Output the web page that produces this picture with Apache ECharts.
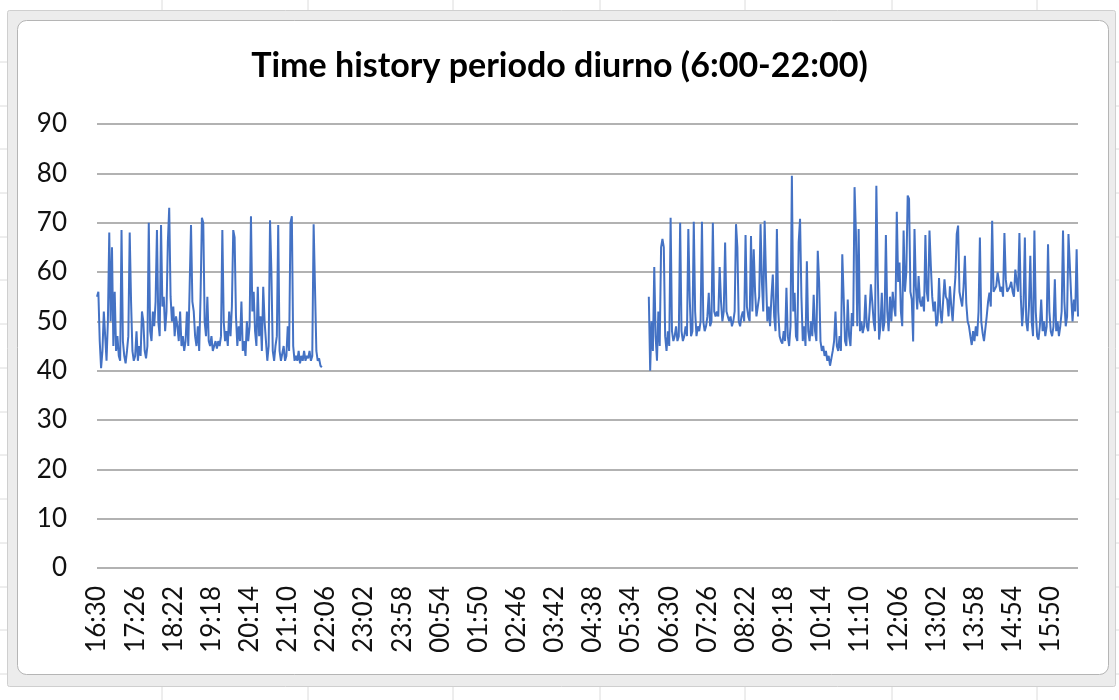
<!DOCTYPE html>
<html>
<head>
<meta charset="utf-8">
<script src="https://cdn.jsdelivr.net/npm/echarts@6/dist/echarts.min.js"></script>
<style>
  html, body { margin: 0; padding: 0; background: #ffffff; }
  #chart { width: 1119px; height: 700px; }
</style>
</head>
<body>
<div id="chart"></div>
<script>
// ---- Data (2-minute samples) ----
const chartTitle = 'Time history periodo diurno (6:00-22:00)';
const startHour = 16, startMinute = 30;      // first sample 16:30
const stepMinutes = 2;                       // sampling step
const labelEvery = 28;                       // one label every 56 minutes
const yTicks = [0, 10, 20, 30, 40, 50, 60, 70, 80, 90];

// 16:30 -> 22:00
const eveningValues = [
  55, 56, 46, 40.5, 44, 52, 47, 42, 50, 68,
  50, 65, 45, 56, 44, 47, 43, 42, 68.5, 46,
  43, 41.5, 44, 47, 68, 54, 44, 42, 43, 48,
  42, 45, 43, 52, 50, 44, 42.5, 45, 70, 48,
  46, 52, 49, 54, 68.5, 50, 47, 69.5, 53, 55,
  48, 52, 66, 73, 55, 50, 53, 47, 51, 49,
  46, 52, 45, 47, 44, 46, 52, 45, 57, 69.5,
  54, 52, 47, 45, 49, 44, 55, 71, 70, 50,
  47, 55, 46, 45, 47, 44, 45, 46, 44.5, 46,
  45, 47, 68.5, 50, 46, 48, 45, 52, 47, 53,
  68.5, 67, 51, 45, 49, 46, 54, 44, 46, 43,
  50, 46, 49, 71.3, 52, 56, 48, 45, 57, 47,
  51, 44, 57, 50, 46, 42, 45, 70.5, 60, 44,
  42, 45, 47, 69.5, 44, 42, 43.5, 45, 42, 43,
  49, 44, 70, 71.3, 45, 42, 43, 42, 44, 41.5,
  43, 42, 44, 42, 43, 42.5, 44, 42, 43, 69.7,
  69.5, 44, 42, 42.5, 41, 40.7
];
// 22:00 -> 06:00 : no measurements (night period)
const nightGapSlots = 239;
// 06:00 -> 16:30
const morningValues = [
  55, 40, 50, 44, 61, 47, 42, 52, 45, 65,
  66.7, 65, 47, 44, 48, 45, 71, 48, 46, 47,
  49, 46, 47, 70, 48, 46, 47, 49, 47, 68.7,
  55, 47, 48, 70.2, 52, 47, 49, 48, 50, 70.2,
  50, 48, 49, 51, 55.8, 49, 50, 70, 52, 51,
  52, 51, 61, 54, 50, 52, 66, 52, 51, 50,
  51, 49, 50, 52, 69.7, 65, 50, 49, 51, 52,
  50, 67.5, 53, 51, 50, 67.3, 52, 64.6, 56, 51,
  53, 55, 69.7, 58, 52, 70.4, 59, 50, 53, 49,
  55, 59.5, 51, 48, 68.7, 52, 47, 46, 45.5, 48,
  46, 56.8, 47, 45, 49, 79.5, 52, 55.8, 47, 46,
  66, 70.8, 55, 46, 49, 45, 62.2, 48, 46, 50,
  47, 55.4, 48, 46, 64.3, 58, 46, 44, 45, 43,
  44, 42, 43, 41, 42.5, 44, 46, 52, 45, 44,
  47, 44, 63.6, 55, 46, 45, 54.4, 47, 45, 51.7,
  49, 77.2, 68, 49, 68.7, 48, 50, 47.6, 49, 55.4,
  49, 48, 52, 57.5, 54, 50, 48, 77.5, 60, 46.3,
  49, 55.8, 48, 50, 67.5, 52, 48, 55, 50, 56,
  53, 51, 72.2, 58, 61.9, 52, 49, 68.4, 56, 60,
  75.5, 74.8, 56, 54.4, 45.9, 68.7, 57, 52.4, 59.2, 54,
  53, 55, 52, 67.5, 56, 54, 68.4, 61.2, 55, 52,
  54, 49, 50, 58.8, 52, 49.6, 50, 58.5, 55, 54.4,
  51, 57.1, 53, 50, 55, 59, 67.7, 69.4, 56, 54.4,
  53, 57, 63.3, 53.7, 50, 49, 47, 45.2, 48, 46,
  49, 47, 52, 67, 50, 47.6, 46, 45.6, 51, 54,
  55.8, 53, 70.4, 56, 55.8, 57.1, 59.9, 58, 56, 57,
  55, 67.9, 58.5, 56, 55.8, 57, 58, 56, 55, 60.5,
  58, 56, 67.9, 55, 49, 53, 67, 50, 48, 53,
  63.3, 50, 47, 68.4, 52, 47, 46.3, 49, 54.4, 48,
  50, 47, 49, 65.6, 52, 48, 47, 49, 58.5, 48,
  50, 47, 49, 52, 68.4, 54, 49, 51, 67.7, 67.9,
  55, 50, 54.4, 52, 64.6, 51
];

// ---- Build categories (time of day for every sample slot) ----
const pad = n => (n < 10 ? '0' : '') + n;
const slotCount = eveningValues.length + nightGapSlots + morningValues.length;
const categories = [];
for (let k = 0; k < slotCount; k++) {
  const m = (startHour * 60 + startMinute + k * stepMinutes) % 1440;
  categories.push(pad(Math.floor(m / 60)) + ':' + pad(m % 60));
}
const seriesData = eveningValues.concat(new Array(nightGapSlots).fill(null), morningValues);

// ---- Chart ----
const chart = echarts.init(document.getElementById('chart'), null, { renderer: 'canvas' });

const sheetCols = [162, 308, 453, 600, 745, 892, 1037];
const sheetRows = [62, 106, 149, 193, 237, 280, 324, 368, 412, 455, 499, 543, 587, 630, 674];
const bgGraphics = [];
sheetCols.forEach(x => {
  bgGraphics.push({ type: 'line', z: -10, shape: { x1: x, y1: 0, x2: x, y2: 10 }, style: { stroke: '#dcdcdc', lineWidth: 1 } });
  bgGraphics.push({ type: 'line', z: -10, shape: { x1: x, y1: 687, x2: x, y2: 700 }, style: { stroke: '#dcdcdc', lineWidth: 1 } });
});
sheetRows.forEach(y => {
  bgGraphics.push({ type: 'line', z: -10, shape: { x1: 0, y1: y, x2: 7, y2: y }, style: { stroke: '#dcdcdc', lineWidth: 1 } });
  bgGraphics.push({ type: 'line', z: -10, shape: { x1: 1116, y1: y, x2: 1119, y2: y }, style: { stroke: '#dcdcdc', lineWidth: 1 } });
});
bgGraphics.push({ type: 'rect', z: -9, shape: { x: 7.5, y: 10.5, width: 1108, height: 676, r: 2 },
  style: { fill: '#ececec', stroke: '#cfcfcf', lineWidth: 1 } });
bgGraphics.push({ type: 'rect', z: -8, shape: { x: 17.5, y: 20.5, width: 1091, height: 654, r: 9 },
  style: { fill: '#ffffff', stroke: '#b5b5b5', lineWidth: 1 } });

chart.setOption({
  animation: false,
  backgroundColor: '#ffffff',
  graphic: { elements: bgGraphics },
  title: {
    text: chartTitle,
    left: 'center',
    top: 49,
    padding: 0,
    textStyle: { fontFamily: 'Lato', fontWeight: 'bold', fontSize: 34, color: '#000000' }
  },
  grid: { left: 97, right: 41, top: 124, bottom: 132, containLabel: false },
  xAxis: {
    type: 'category',
    data: categories,
    boundaryGap: false,
    axisLine: { show: false },
    axisTick: { show: false },
    splitLine: { show: false },
    axisLabel: {
      interval: labelEvery - 1,
      rotate: 90,
      margin: 18,
      fontFamily: 'Lato',
      fontSize: 26,
      color: '#111111'
    }
  },
  yAxis: {
    type: 'value',
    min: yTicks[0],
    max: yTicks[yTicks.length - 1],
    interval: yTicks[1] - yTicks[0],
    axisLine: { show: false },
    axisTick: { show: false },
    splitLine: { lineStyle: { color: '#999999', width: 1.5 } },
    axisLabel: { margin: 30, fontFamily: 'Lato', fontSize: 26, color: '#111111' }
  },
  series: [{
    type: 'line',
    data: seriesData,
    showSymbol: false,
    symbol: 'none',
    connectNulls: false,
    lineStyle: { color: '#4472C4', width: 2 },
    itemStyle: { color: '#4472C4' }
  }]
});
</script>
</body>
</html>
